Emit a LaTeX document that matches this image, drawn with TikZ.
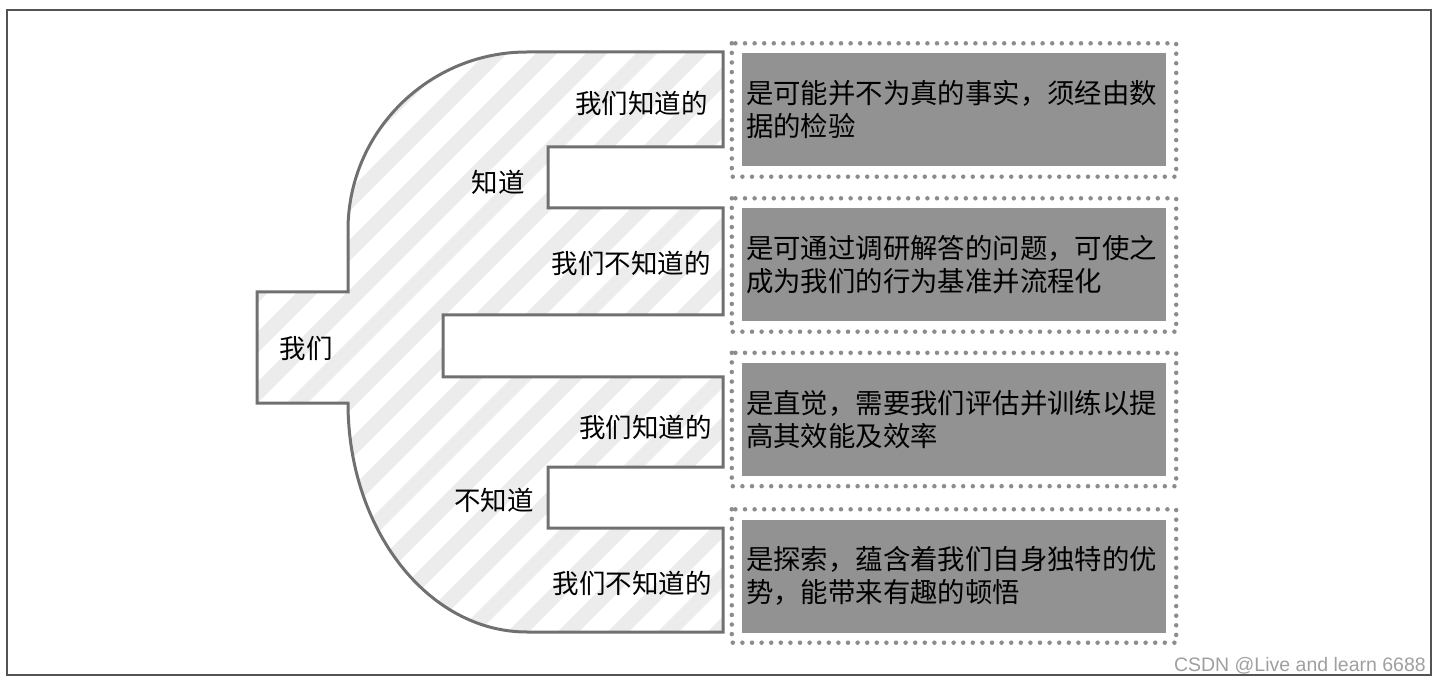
\documentclass[tikz,border=0pt]{standalone}
\usepackage{fontspec}
\newfontfamily\cjk{Noto Sans CJK SC}
\newfontfamily\wmfont{Liberation Sans}
\definecolor{edgegray}{RGB}{112,112,112}
\definecolor{boxgray}{RGB}{146,146,146}
\definecolor{stripegray}{RGB}{236,236,236}
\definecolor{dotgray}{RGB}{140,140,140}

\begin{document}
\begin{tikzpicture}[
    x=1pt, y=-1pt,
    branch/.style={font=\cjk\fontsize{26.5}{30}\selectfont, inner sep=0pt},
    desc/.style={rectangle, fill=boxgray, minimum width=424pt, minimum height=113pt, text width=416pt, inner sep=4pt, align=left, font=\cjk\fontsize{27.4}{33}\selectfont},
    dotframe/.style={draw=dotgray, line width=4.5pt, line cap=round, dash pattern=on 0pt off 9.6pt},
    blob/.style={draw=edgegray, line width=3pt, line join=miter},
    stripe/.style={draw=stripegray, line width=15pt}
]
\useasboundingbox (0,0) rectangle (1440,684);
\draw[line width=2pt, gray!65!black] (7,10) rectangle (1431,675);

% Tree shape
\path[save path=\treepath] (527,52) -- (723,52) -- (723,147) -- (548,147) -- (548,208) -- (723,208)
  -- (723,315) -- (443,315) -- (443,377) -- (723,377) -- (723,467) -- (548,467) -- (548,528)
  -- (723,528) -- (723,632) -- (527,632) .. controls (428,632) and (348,529.5) .. (348,403)
  -- (257,403) -- (257,292) -- (348,292) -- (348,230) .. controls (348,131.7) and (428.7,52) .. (527,52) -- cycle;
\begin{scope}
  \clip[use path=\treepath];
  \foreach \c in {-200,-150,...,720}
    \draw[stripe] (\c,700) -- ++(700,-700);
\end{scope}
\draw[blob, use path=\treepath];

% Labels
\node[branch] (we) at (306,348) {我们};
\node[branch] (know) at (498,182) {知道};
\node[branch] (unknow) at (494,500) {不知道};
\node[branch, anchor=east] (kk) at (708,103) {我们知道的};
\node[branch, anchor=east] (ku) at (711,263) {我们不知道的};
\node[branch, anchor=east] (uk) at (712,427) {我们知道的};
\node[branch, anchor=east] (uu) at (712,583) {我们不知道的};

% Boxes
\node[desc] (fact) at (954,110) {是可能并不为真的事实，须经由数\\据的检验};
\node[desc] (question) at (954,265) {是可通过调研解答的问题，可使之\\成为我们的行为基准并流程化};
\node[desc] (intuition) at (954,419.5) {是直觉，需要我们评估并训练以提\\高其效能及效率};
\node[desc] (explore) at (954,576) {是探索，蕴含着我们自身独特的优\\势，能带来有趣的顿悟};
\foreach \b in {fact,question,intuition,explore}
  \draw[dotframe] ([shift={(-10,-10)}]\b.north west) rectangle ([shift={(10,10)}]\b.south east);

\node[font=\wmfont\fontsize{19.5}{19.5}\selectfont, text=gray!75, anchor=east, inner sep=0pt] (mark) at (1426,666) {CSDN @Live and learn 6688};

\end{tikzpicture}
\end{document}
